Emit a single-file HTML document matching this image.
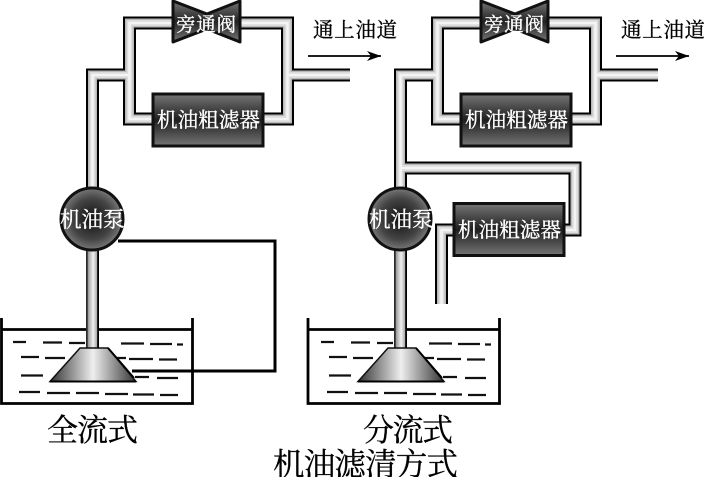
<!DOCTYPE html>
<html><head><meta charset="utf-8"><style>
html,body{margin:0;padding:0;background:#fff}
svg{display:block}
text{font-family:"Liberation Serif","Noto Serif CJK SC",serif}
.w{fill:#fff;stroke:#fff;stroke-width:.35}
.k{fill:#000;stroke:#000;stroke-width:.3}
.o{fill:none;stroke:#000;stroke-width:13;stroke-linejoin:miter}
.m{fill:none;stroke:#b8b8b8;stroke-width:9;stroke-linejoin:miter}
.n{fill:none;stroke:#dcdcdc;stroke-width:6;stroke-linejoin:miter}
.l{fill:none;stroke:#f4f4f4;stroke-width:2.500;stroke-linejoin:miter}
.d{fill:none;stroke:#111;stroke-width:2.2}
.t{fill:none;stroke:#000;stroke-width:3}
</style></head><body>
<svg width="704" height="477" viewBox="0 0 704 477" xmlns="http://www.w3.org/2000/svg">
<defs>
<linearGradient id="box" x1="0" y1="0" x2="0" y2="1"><stop offset="0" stop-color="#777"/><stop offset=".5" stop-color="#1e1e1e"/><stop offset="1" stop-color="#777"/></linearGradient>
<radialGradient id="pump" cx=".5" cy=".5" r=".55"><stop offset="0" stop-color="#111"/><stop offset=".6" stop-color="#444"/><stop offset="1" stop-color="#888"/></radialGradient>
<linearGradient id="cone" x1="0" y1="0" x2="1" y2="0"><stop offset="0" stop-color="#333"/><stop offset=".5" stop-color="#eee"/><stop offset="1" stop-color="#333"/></linearGradient>
<linearGradient id="valve" x1="0" y1="0" x2="0" y2="1"><stop offset="0" stop-color="#777"/><stop offset=".5" stop-color="#222"/><stop offset="1" stop-color="#777"/></linearGradient>
<linearGradient id="vp" x1="0" y1="0" x2="1" y2="0"><stop offset="0" stop-color="#222"/><stop offset=".1" stop-color="#333"/><stop offset=".18" stop-color="#a0a0a0"/><stop offset=".55" stop-color="#f0f0f0"/><stop offset=".84" stop-color="#aaa"/><stop offset=".88" stop-color="#000"/><stop offset="1" stop-color="#000"/></linearGradient>
<marker id="a" viewBox="0 0 14 10" refX="14" refY="5" markerWidth="14" markerHeight="10" markerUnits="userSpaceOnUse" orient="auto"><path d="M0 0L14 5L0 10L4 5Z" fill="#000"/></marker>
</defs>

<!-- left system -->
<g>
<path class="t" d="M118 241H275V371H132"/>
<path class="d" d="M13 342H26M43 342.500H62M69 343H85M121 343.500H144M150 344H172M177 344.500H183M21 357H39M45 358H65M112 358H126M129 359H153M159 359.500H177M21 375.500H43M135 377H149M157 378H178M19 392H40M47 393H70M76 393H99M105 394H128M133 394.500H154M160 395H178"/>
<path class="t" style="stroke-width:2.800" d="M1.500 318V403.500H192.500V318M1.500 329.500H192.500"/>
<path class="o" d="M92.500 190V75H129.500M129.500 23H287.500V119H129.500ZM287.500 75H350"/>
<path class="m" d="M92.500 190V75H129.500M129.500 23H287.500V119H129.500ZM287.500 75H350"/>
<path class="n" d="M92.500 190V75H129.500M129.500 23H287.500V119H129.500ZM287.500 75H350"/>
<path class="l" d="M92.500 190V75H129.500M129.500 23H287.500V119H129.500ZM287.500 75H350"/>
<rect x="86" y="245" width="13" height="106" fill="url(#vp)"/>
<path d="M50 381.500L80 348H108L136 381.500Z" fill="url(#cone)" stroke="#111" stroke-width="1.500"/>
<path class="t" style="stroke-width:2" d="M50 381.500H136M108 348L134 378"/>
<circle cx="92" cy="219" r="31" fill="url(#pump)" stroke="#111" stroke-width="3"/>
<text class="w" x="60" y="227" font-size="21.500">机油泵</text>
<path d="M173 1L207 14L240 1V42L207 29L173 42Z" fill="url(#valve)" stroke="#111" stroke-width="3" stroke-linejoin="round"/>
<text class="w" x="176" y="31" font-size="19.500" textLength="60">旁通阀</text>
<rect x="153" y="94" width="110" height="52" fill="url(#box)" stroke="#111" stroke-width="3"/>
<text class="w" x="157" y="127" font-size="20.500" textLength="103">机油粗滤器</text>
<text class="k" x="313" y="37" font-size="20.500" textLength="84">通上油道</text>
<line x1="308" y1="56" x2="381" y2="56" stroke="#000" stroke-width="1.800" marker-end="url(#a)"/>
<text class="k" x="47" y="441" font-size="31" textLength="91">全流式</text>
</g>

<!-- right system -->
<g transform="translate(308 0)">
<path class="d" d="M13 342H26M43 342.500H62M69 343H85M121 343.500H144M150 344H172M177 344.500H183M21 357H39M45 358H65M112 358H126M129 359H153M159 359.500H177M21 375.500H43M135 377H149M157 378H178M19 392H40M47 393H70M76 393H99M105 394H128M133 394.500H154M160 395H178"/>
<path class="t" style="stroke-width:2.800" d="M0 318V403.500H191.500V318M0 329.500H191.500"/>
<path class="o" d="M92.500 190V75H129.500M129.500 23H287.500V119H129.500ZM287.500 75H350M92.500 168H267V230H250M133.500 304V230H150"/>
<path class="m" d="M92.500 190V75H129.500M129.500 23H287.500V119H129.500ZM287.500 75H350M92.500 168H267V230H250M133.500 304V230H150"/>
<path class="n" d="M92.500 190V75H129.500M129.500 23H287.500V119H129.500ZM287.500 75H350M92.500 168H267V230H250M133.500 304V230H150"/>
<path class="l" d="M92.500 190V75H129.500M129.500 23H287.500V119H129.500ZM287.500 75H350M92.500 168H267V230H250M133.500 304V230H150"/>
<rect x="86" y="245" width="13" height="106" fill="url(#vp)"/>
<path d="M50 381.500L80 348H108L136 381.500Z" fill="url(#cone)" stroke="#111" stroke-width="1.500"/>
<path class="t" style="stroke-width:2" d="M50 381.500H136M108 348L134 378"/>
<circle cx="92" cy="219" r="31" fill="url(#pump)" stroke="#111" stroke-width="3"/>
<text class="w" x="61" y="227" font-size="21.500">机油泵</text>
<path d="M173 1L207 14L240 1V42L207 29L173 42Z" fill="url(#valve)" stroke="#111" stroke-width="3" stroke-linejoin="round"/>
<text class="w" x="176" y="31" font-size="19.500" textLength="60">旁通阀</text>
<rect x="153" y="94" width="110" height="52" fill="url(#box)" stroke="#111" stroke-width="3"/>
<text class="w" x="157" y="127" font-size="20.500" textLength="103">机油粗滤器</text>
<rect x="146" y="203.500" width="110" height="52" fill="url(#box)" stroke="#111" stroke-width="3"/>
<text class="w" x="150" y="237" font-size="20.500" textLength="103">机油粗滤器</text>
<text class="k" x="313" y="37" font-size="20.500" textLength="84">通上油道</text>
<line x1="308" y1="56" x2="381" y2="56" stroke="#000" stroke-width="1.800" marker-end="url(#a)"/>
<text class="k" x="55" y="441" font-size="31" textLength="90">分流式</text>
</g>

<text class="k" x="273" y="475" font-size="31.500" textLength="185">机油滤清方式</text>
</svg>
</body></html>
